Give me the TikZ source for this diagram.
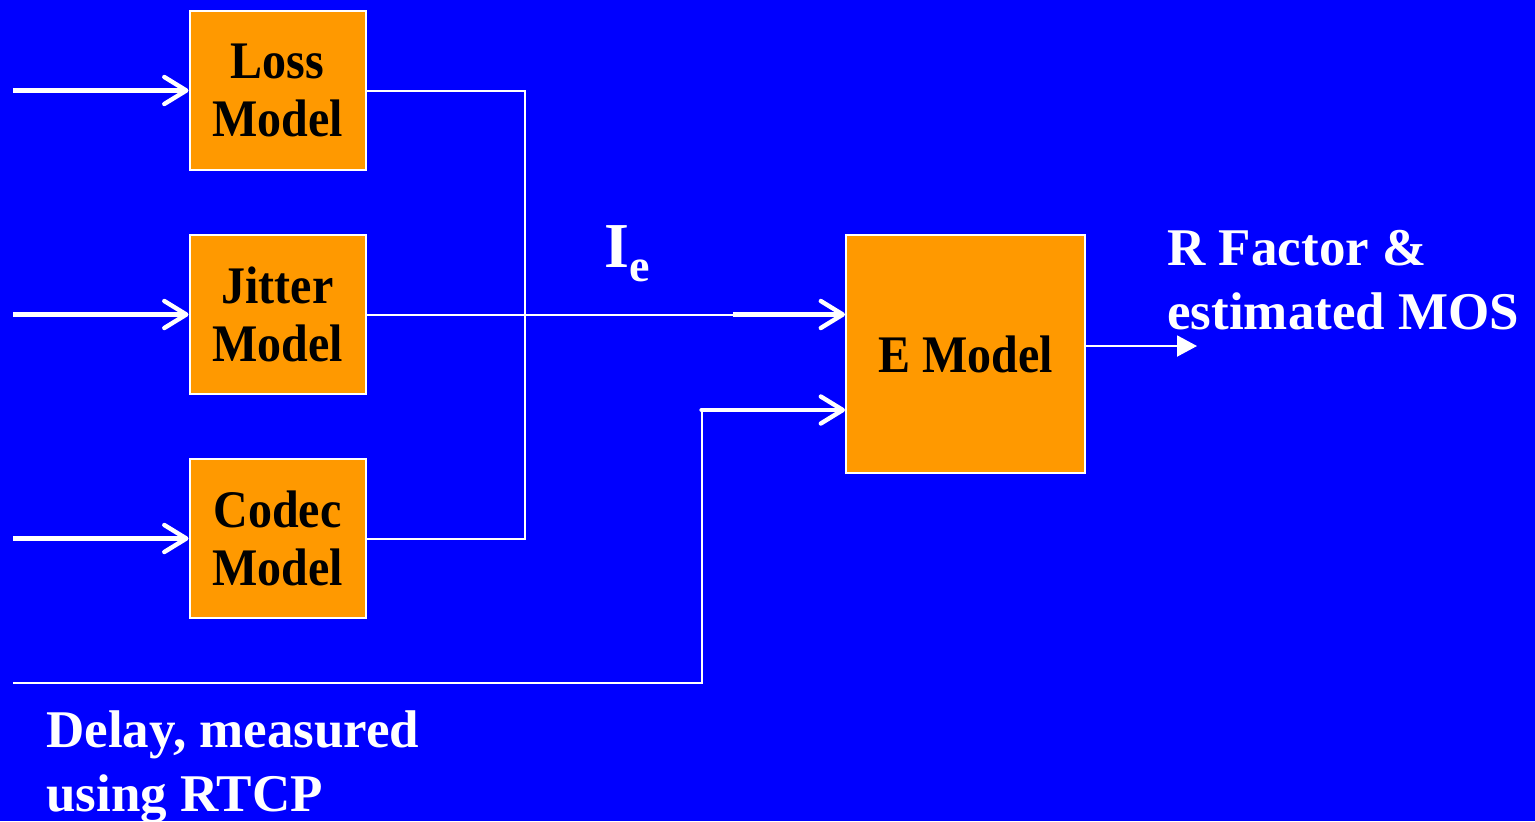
\documentclass[tikz,border=0pt]{standalone}
\usepackage{fontspec}
\setmainfont{Liberation Serif}
\usetikzlibrary{arrows.meta}
\definecolor{bg}{HTML}{0000FF}
\definecolor{boxor}{HTML}{FF9900}
\newcommand\tallx[1]{\scalebox{1}[1.1]{#1}}
\begin{document}
\begin{tikzpicture}[x=0.5pt,y=-0.5pt,
  model/.style={draw=white, line width=1pt, fill=boxor, minimum width=88pt, minimum height=79.5pt,
    inner sep=0pt, align=center, font=\fontsize{24}{28.75}\selectfont\bfseries, text=black},
  thinln/.style={draw=white, line width=1pt},
  inarrow/.style={draw=white, line width=2.2pt, -{Straight Barb[length=11pt,width=13.5pt,round]}},
  wlabel/.style={text=white, font=\fontsize{26.5}{32}\selectfont\bfseries, align=left, inner sep=0pt}]
\useasboundingbox (0,0) rectangle (1535,821);
\fill[bg] (0,0) rectangle (1535,821);
% model boxes
\node[model] (loss)   at (277.5,90.5)  {\tallx{Loss}\\\tallx{Model}};
\node[model] (jitter) at (277.5,314.5) {\tallx{Jitter}\\\tallx{Model}};
\node[model] (codec)  at (277.5,538.5) {\tallx{Codec}\\\tallx{Model}};
\node[model, minimum width=119.5pt, minimum height=119pt] (emodel) at (965.5,354) {\tallx{E Model}};
% input arrows
\coordinate (inL) at (13,90.5);
\coordinate (inJ) at (13,314.5);
\coordinate (inC) at (13,538.5);
\draw[inarrow] (inL) -- (loss.west);
\draw[inarrow] (inJ) -- (jitter.west);
\draw[inarrow] (inC) -- (codec.west);
% bus
\coordinate (busT) at (525,90.5);
\coordinate (busB) at (525,538.5);
\draw[thinln] (loss.east) -- (busT) -- (busB) -- (codec.east);
\coordinate (ie) at (733,314.5);
\draw[thinln] (jitter.east) -- (ie);
\draw[inarrow] (ie) -- (emodel.west |- ie);
% delay
\coordinate (dIn) at (13,682.5);
\coordinate (dTurn) at (701.5,682.5);
\coordinate (dUp) at (701.5,410);
\draw[thinln] (dIn) -- (dTurn) -- (dUp);
\draw[inarrow, line cap=round] (dUp) -- (emodel.west |- dUp);
% output
\coordinate (out) at (1197,346);
\draw[white, line width=1pt, -{Triangle[length=10pt,width=10.5pt]}] (emodel.east |- out) -- (out);
% labels
\node[wlabel, anchor=base west] (ielbl) at (604,267)
  {{\fontsize{32}{32}\selectfont I}\raisebox{-7pt}{\fontsize{23}{23}\selectfont e}};
\node[wlabel, anchor=north west] (rf) at (1167,230) {R Factor \&\\estimated MOS};
\node[wlabel, anchor=north west] (delay) at (46,710) {Delay, measured\\using RTCP};
\end{tikzpicture}
\end{document}
